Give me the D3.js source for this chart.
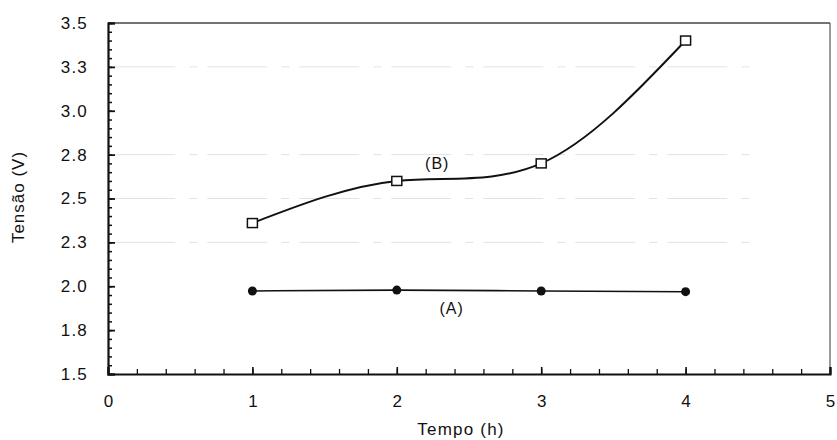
<!DOCTYPE html>
<html>
<head>
<meta charset="utf-8">
<script src="https://cdn.jsdelivr.net/npm/d3@7"></script>
<style>
  body { margin: 0; background: #fff; }
  svg { font-family: "Liberation Sans", Arial, sans-serif; }
</style>
</head>
<body>
<div id="chart"></div>
<script>
// Data
const hours = [1, 2, 3, 4];
const seriesA = [1.973, 1.978, 1.973, 1.969];
const seriesB = [2.36, 2.60, 2.70, 3.40];

const xTicks = [0, 1, 2, 3, 4, 5];
const xTickLabels = ["0", "1", "2", "3", "4", "5"];
const yTicks = [1.5, 1.75, 2.0, 2.25, 2.5, 2.75, 3.0, 3.25, 3.5];
const yTickLabels = ["1.5", "1.8", "2.0", "2.3", "2.5", "2.8", "3.0", "3.3", "3.5"];
const gridValues = [2.25, 2.5, 2.75, 3.25];

// Size
const margin = { top: 23, right: 7, bottom: 66, left: 108 };
const width = 837 - margin.left - margin.right;
const height = 440 - margin.top - margin.bottom;

const svg = d3.select("#chart")
  .append("svg")
  .attr("width", 837)
  .attr("height", 440);

const g = svg.append("g")
  .attr("transform", `translate(${margin.left},${margin.top})`);

const x = d3.scaleLinear().domain([0, 5]).range([0, width]);
const y = d3.scaleLinear().domain([1.5, 3.5]).range([height, 0]);

// faint scanned grid lines
g.selectAll(".grid")
  .data(gridValues)
  .enter().append("line")
  .attr("class", "grid")
  .attr("x1", x(0.05))
  .attr("x2", x(4.5))
  .attr("y1", d => y(d))
  .attr("y2", d => y(d))
  .attr("stroke", "#e2e2e2")
  .attr("stroke-width", 1)
  .attr("stroke-dasharray", "60,14,8,10");

// frame top and right
g.append("line")
  .attr("x1", 0).attr("x2", width).attr("y1", 0).attr("y2", 0)
  .attr("stroke", "#444").attr("stroke-width", 1.5);
g.append("line")
  .attr("x1", width).attr("x2", width).attr("y1", 0).attr("y2", height)
  .attr("stroke", "#555").attr("stroke-width", 1.2);

// minor ticks
g.append("g")
  .call(d3.axisLeft(y).tickValues(d3.range(1.5, 3.501, 0.05)).tickSize(-4).tickFormat(""))
  .call(a => a.select(".domain").remove())
  .selectAll("line").attr("stroke", "#111").attr("stroke-width", 1.5);

g.append("g")
  .attr("transform", `translate(0,${height})`)
  .call(d3.axisBottom(x).tickValues(d3.range(0, 5.01, 0.2)).tickSize(-5).tickFormat(""))
  .call(a => a.select(".domain").remove())
  .selectAll("line").attr("stroke", "#111").attr("stroke-width", 1.3);

// y axis
const yAxis = g.append("g")
  .call(d3.axisLeft(y)
    .tickValues(yTicks)
    .tickSize(-7)
    .tickPadding(20)
    .tickFormat((d, i) => yTickLabels[i]));
yAxis.select(".domain").attr("stroke", "#111").attr("stroke-width", 2.2);
yAxis.selectAll(".tick line").attr("stroke", "#111").attr("stroke-width", 1.8);
yAxis.selectAll("text")
  .style("font-size", "17px")
  .style("letter-spacing", "1.2px")
  .attr("fill", "#111");

// x axis
const xAxis = g.append("g")
  .attr("transform", `translate(0,${height})`)
  .call(d3.axisBottom(x)
    .tickValues(xTicks)
    .tickSize(-7)
    .tickPadding(21)
    .tickFormat((d, i) => xTickLabels[i]));
xAxis.select(".domain").attr("stroke", "#111").attr("stroke-width", 2.2);
xAxis.selectAll(".tick line").attr("stroke", "#111").attr("stroke-width", 1.6);
xAxis.selectAll("text")
  .style("font-size", "17px")
  .attr("fill", "#111");

// lines
const line = d3.line()
  .x((d, i) => x(hours[i]))
  .y(d => y(d))
  .curve(d3.curveNatural);

g.append("path")
  .datum(seriesA)
  .attr("fill", "none")
  .attr("stroke", "#111")
  .attr("stroke-width", 1.6)
  .attr("d", line);

g.append("path")
  .datum(seriesB)
  .attr("fill", "none")
  .attr("stroke", "#111")
  .attr("stroke-width", 2)
  .attr("d", line);

// markers
g.selectAll(".ptA")
  .data(seriesA)
  .enter().append("circle")
  .attr("class", "ptA")
  .attr("cx", (d, i) => x(hours[i]))
  .attr("cy", d => y(d))
  .attr("r", 4.5)
  .attr("fill", "#111");

g.selectAll(".ptB")
  .data(seriesB)
  .enter().append("rect")
  .attr("class", "ptB")
  .attr("x", (d, i) => x(hours[i]) - 5)
  .attr("y", d => y(d) - 4.5)
  .attr("width", 10)
  .attr("height", 9)
  .attr("fill", "#fff")
  .attr("stroke", "#111")
  .attr("stroke-width", 1.5);

// series labels
g.append("text")
  .attr("x", x(2.28))
  .attr("y", y(2.67))
  .attr("text-anchor", "middle")
  .style("font-size", "16px")
  .style("letter-spacing", "1px")
  .attr("fill", "#111")
  .text("(B)");

g.append("text")
  .attr("x", x(2.38))
  .attr("y", y(1.84))
  .attr("text-anchor", "middle")
  .style("font-size", "16px")
  .style("letter-spacing", "1px")
  .attr("fill", "#111")
  .text("(A)");

// axis titles
svg.append("text")
  .attr("transform", "translate(18,197) rotate(-90)")
  .attr("text-anchor", "middle")
  .attr("dy", "0.35em")
  .style("font-size", "17px")
  .style("letter-spacing", "1px")
  .attr("fill", "#111")
  .text("Tensão (V)");

svg.append("text")
  .attr("x", 461)
  .attr("y", 435)
  .attr("text-anchor", "middle")
  .style("font-size", "17px")
  .style("letter-spacing", "1.2px")
  .attr("fill", "#111")
  .text("Tempo (h)");
</script>
</body>
</html>
